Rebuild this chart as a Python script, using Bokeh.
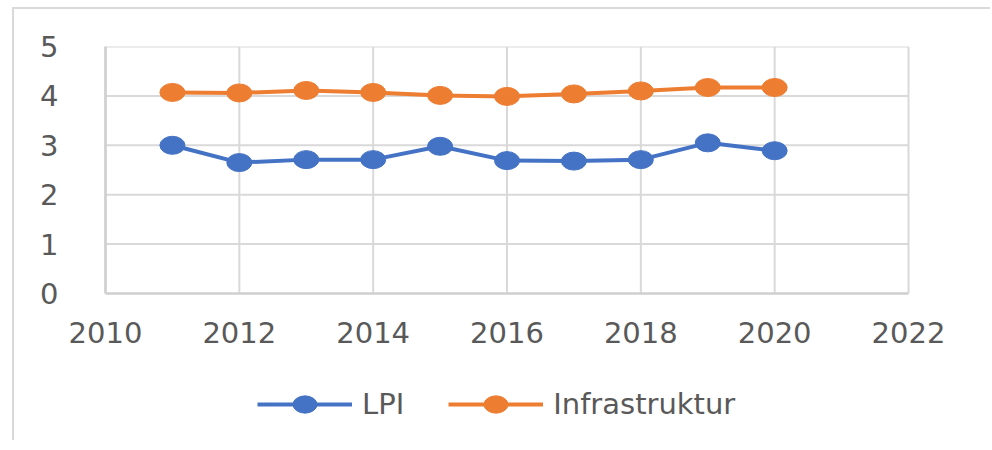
from bokeh.plotting import figure
from bokeh.models import (Range1d, FixedTicker, Legend, LegendItem,
                          ColumnDataSource)
from bokeh.embed import file_html
from bokeh.resources import INLINE

years = [2011, 2012, 2013, 2014, 2015, 2016, 2017, 2018, 2019, 2020]
lpi = [3.00, 2.65, 2.71, 2.71, 2.98, 2.69, 2.68, 2.71, 3.05, 2.89]
infrastruktur = [4.07, 4.06, 4.11, 4.07, 4.01, 3.99, 4.04, 4.10, 4.17, 4.17]
series_names = ["LPI", "Infrastruktur"]
series_colors = ["#4472C4", "#ED7D31"]
x_ticks = [2010, 2012, 2014, 2016, 2018, 2020, 2022]
y_ticks = [0, 1, 2, 3, 4, 5]

FONT = "DejaVu Sans"
TXT = "#595959"
GRID = "#d9d9d9"

# layout (pixels)
PLOT_W = 803          # pixel width of the 2010..2022 value area
PLOT_H = 247          # pixel height of the 0..5 value area
PAD_L = 39            # extra frame room left of 2010 (for the "2010" label)
PAD_R = 52            # extra frame room right of 2022 (for the "2022" label)
FRAME_H = 394         # frame extended downward to hold axis labels and legend
px_per_year = PLOT_W / (x_ticks[-1] - x_ticks[0])
x_lo = x_ticks[0] - PAD_L / px_per_year
x_hi = x_ticks[-1] + PAD_R / px_per_year
y_lo = -(FRAME_H - PLOT_H) / PLOT_H * (y_ticks[-1] - y_ticks[0])

p = figure(frame_width=PLOT_W + PAD_L + PAD_R, frame_height=FRAME_H,
           output_backend="svg", toolbar_location=None,
           x_range=Range1d(x_lo, x_hi), y_range=Range1d(y_lo, y_ticks[-1]),
           min_border_left=52, min_border_top=37, min_border_right=30,
           min_border_bottom=0)
p.styles = {"margin-left": "12px", "margin-top": "7px",
            "border-left": "2px solid #d9d9d9", "border-top": "2px solid #d9d9d9"}
p.background_fill_color = "white"
p.border_fill_color = "white"
p.outline_line_color = None

p.xaxis.ticker = FixedTicker(ticks=x_ticks)
p.yaxis.ticker = FixedTicker(ticks=y_ticks)
p.xaxis.fixed_location = 0
p.xaxis.bounds = (x_ticks[0], x_ticks[-1])
p.yaxis.bounds = (y_ticks[0], y_ticks[-1])
for ax in (p.xaxis[0], p.yaxis[0]):
    ax.axis_line_color = "#cfcfcf"
    ax.axis_line_width = 2.5
    ax.major_tick_line_color = None
    ax.minor_tick_line_color = None
    ax.major_label_text_font = FONT
    ax.major_label_text_font_size = "29px"
    ax.major_label_text_color = TXT
p.yaxis.axis_line_color = None
p.xaxis.major_label_standoff = 22
p.yaxis.major_label_standoff = 2

p.xgrid.visible = False
p.ygrid.visible = False

# grid lines limited to the value area (2010..2022, 0..5)
p.segment(x0=x_ticks, y0=[y_ticks[0]] * len(x_ticks),
          x1=x_ticks, y1=[y_ticks[-1]] * len(x_ticks),
          line_color=GRID, line_width=2)
p.segment(x0=[x_ticks[0]] * (len(y_ticks) - 1), y0=y_ticks[1:],
          x1=[x_ticks[-1]] * (len(y_ticks) - 1), y1=y_ticks[1:],
          line_color=GRID, line_width=2)
p.segment(x0=[x_ticks[0]], y0=[y_ticks[0]], x1=[x_ticks[0]], y1=[y_ticks[-1]],
          line_color="#cfcfcf", line_width=2.5)

items = []
for name, vals, col in zip(series_names, [lpi, infrastruktur], series_colors):
    src = ColumnDataSource(dict(x=years, y=vals))
    ln = p.line("x", "y", source=src, line_color=col, line_width=4)
    el = p.ellipse("x", "y", source=src, width=25, height=18,
                   width_units="screen", height_units="screen",
                   fill_color=col, line_color=col)
    items.append(LegendItem(label=name, renderers=[ln, el]))

legend = Legend(items=items, orientation="horizontal",
                location=(152 + PAD_L, 19),
                glyph_width=95, glyph_height=30, label_standoff=10, spacing=44,
                padding=0, margin=0, border_line_color=None,
                background_fill_alpha=0,
                label_text_font=FONT, label_text_font_size="29px",
                label_text_color=TXT)
p.add_layout(legend)

open("out.html", "w").write(file_html(p, INLINE))
